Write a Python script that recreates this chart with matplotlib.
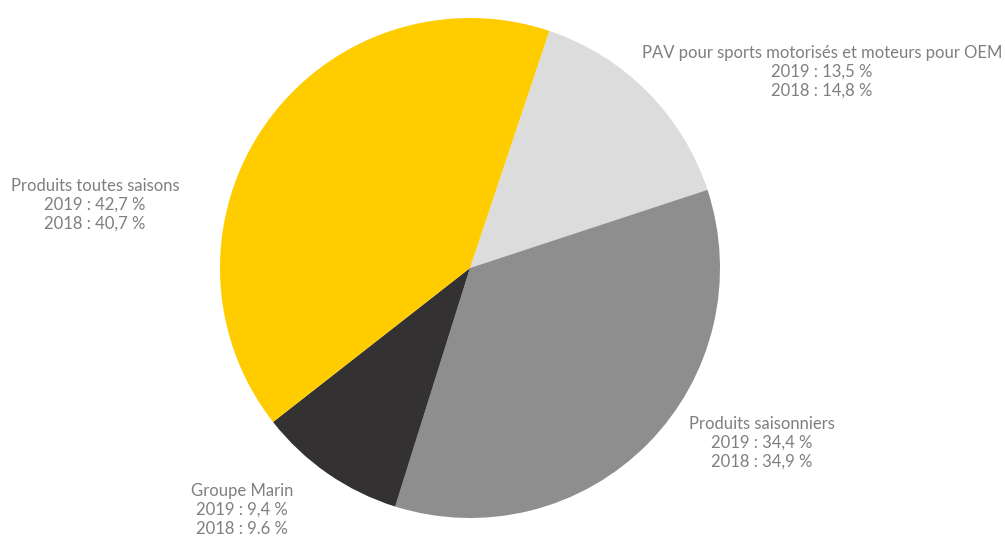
import matplotlib
matplotlib.use("Agg")
import matplotlib.pyplot as plt

# segments in clockwise order starting at the top-right
labels = ["PAV pour sports motorisés et moteurs pour OEM", "Produits saisonniers",
          "Groupe Marin", "Produits toutes saisons"]
share_2019 = ["13,5 %", "34,4 %", "9,4 %", "42,7 %"]
share_2018 = ["14,8 %", "34,9 %", "9.6 %", "40,7 %"]
values_2018 = [14.8, 34.9, 9.6, 40.7]
colors = ["#DCDCDC", "#8E8E8E", "#333132", "#FFCC00"]

W, H = 1005, 540
fig = plt.figure(figsize=(W / 100, H / 100), dpi=100)
ax = fig.add_axes([220 / W, 22 / H, 500 / W, 500 / H])
ax.pie(values_2018, colors=colors, startangle=71.5, counterclock=False,
       wedgeprops={"linewidth": 0})
ax.set_xlim(-1, 1)
ax.set_ylim(-1, 1)
ax.set_aspect("equal")
ax.axis("off")

# label block centres in pixels (x, y of middle line)
label_pos = [(822, 72), (762, 443), (242, 510), (95, 205)]
for name, a, b, (px, py) in zip(labels, share_2019, share_2018, label_pos):
    fig.text(px / W, 1 - py / H, f"{name}\n2019 : {a}\n2018 : {b}",
             ha="center", va="center", multialignment="center",
             fontsize=12, family="Lato", color="#7F7F7F", linespacing=1.22)

fig.savefig("out.png", dpi=100)
